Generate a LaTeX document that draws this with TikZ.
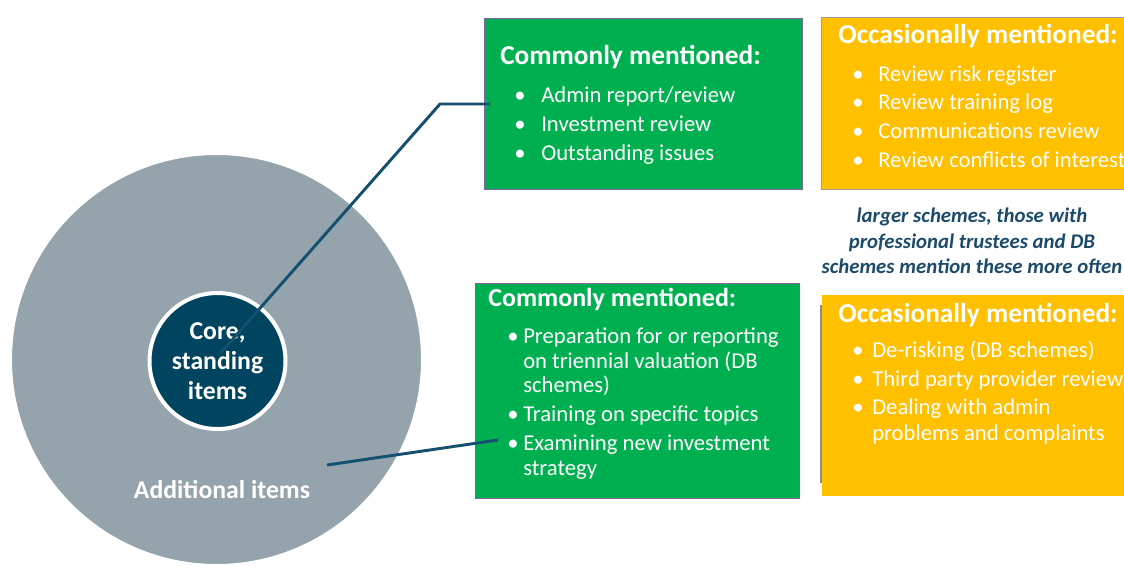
\documentclass[tikz,border=0pt]{standalone}
\usepackage{fontspec}
\setmainfont{Carlito}
\definecolor{bigc}{HTML}{95A3AD}
\definecolor{corec}{HTML}{00445F}
\definecolor{gfill}{HTML}{00B050}
\definecolor{yfill}{HTML}{FFC000}
\definecolor{linec}{HTML}{15506F}
\definecolor{notec}{HTML}{1B4A6B}
\definecolor{gborder}{HTML}{8064A2}
\definecolor{yborder}{HTML}{A09A9A}
\begin{document}
\begin{tikzpicture}[x=0.75pt,y=-0.75pt,
  gbox/.style={draw=gborder, line width=1.1pt, fill=gfill, anchor=north west, inner sep=0},
  ybox/.style={fill=yfill, anchor=north west, inner sep=0},
  title/.style={anchor=base west, text=white, inner sep=0, font=\bfseries\fontsize{20.5}{24}\selectfont},
  title2/.style={anchor=base west, text=white, inner sep=0, font=\bfseries\fontsize{19.5}{23}\selectfont},
  item/.style={anchor=base west, text=white, inner sep=0, font=\fontsize{17}{20}\selectfont},
  bul/.style={anchor=base, text=white, inner sep=0, font=\fontsize{17}{20}\selectfont},
  note/.style={anchor=base, text=notec, inner sep=0, font=\bfseries\itshape\fontsize{15.6}{19}\selectfont},
  conn/.style={draw=linec, line width=2.2pt}]
\useasboundingbox (0,0) rectangle (1124,565);
\clip (0,0) rectangle (1124,565);

% circles
\node[circle, fill=bigc, draw=white, line width=2.25pt, minimum size=309pt, inner sep=0] (big) at (216.5,359.5) {};
\node[circle, fill=corec, draw=white, line width=3pt, minimum size=102pt, inner sep=0,
      text=white, align=center, font=\bfseries\fontsize{19.3}{22.5}\selectfont] (core) at (217.5,361) {Core,\\standing\\items};
\node[anchor=base, text=white, inner sep=0, font=\bfseries\fontsize{19.3}{23}\selectfont] (add) at (222,498) {Additional items};

% boxes
\node[gbox, minimum width=238.5pt, minimum height=128.25pt] (g1) at (484,18) {};
\node[ybox, draw=yborder, line width=0.8pt, minimum width=240pt, minimum height=129pt] (y1) at (821,17) {};
\node[gbox, minimum width=243pt, minimum height=161.25pt] (g2) at (475,283) {};
\node[ybox, minimum width=232.5pt, minimum height=150.75pt] (y2) at (822,295) {};
\coordinate (ys1) at (820.5,305);
\coordinate (ys2) at (820.5,483);
\draw[draw=black!45, line width=1.5pt] (ys1) -- (ys2);

% top green
\node[title] (g1t) at (500,64) {Commonly mentioned:};
\foreach \t [count=\k] in {{Admin report/review},{Investment review},{Outstanding issues}} {
  \node[bul] (g1b\k) at (520,{102+29*(\k-1)}) {•};
  \node[item] (g1i\k) at (541,{102+29*(\k-1)}) {\t};
}

% top yellow
\node[title] (y1t) at (838,43) {Occasionally mentioned:};
\foreach \t [count=\k] in {{Review risk register},{Review training log},{Communications review},{Review conflicts of interest}} {
  \node[bul] (y1b\k) at (858,{81+28.7*(\k-1)}) {•};
  \node[item] (y1i\k) at (878,{81+28.7*(\k-1)}) {\t};
}

% note
\node[note] (n1) at (972,222) {larger schemes, those with};
\node[note] (n2) at (972,248) {professional trustees and DB};
\node[note] (n3) at (972,273) {schemes mention these more often};

% lower green
\node[title2] (g2t) at (488,306) {Commonly mentioned:};
\node[bul] (g2b1) at (513,343) {•};
\node[item] (g2i1) at (523,343) {Preparation for or reporting};
\node[item] (g2i1b) at (523,368) {on triennial valuation (DB};
\node[item] (g2i1c) at (523,392) {schemes)};
\node[bul] (g2b2) at (513,421) {•};
\node[item] (g2i2) at (523,421) {Training on specific topics};
\node[bul] (g2b3) at (513,450) {•};
\node[item] (g2i3) at (523,450) {Examining new investment};
\node[item] (g2i3b) at (523,475) {strategy};

% lower yellow
\node[title] (y2t) at (838,322) {Occasionally mentioned:};
\node[bul] (y2b1) at (858,357) {•};
\node[item] (y2i1) at (872,357) {De-risking (DB schemes)};
\node[bul] (y2b2) at (858,386) {•};
\node[item] (y2i2) at (872,386) {Third party provider review};
\node[bul] (y2b3) at (858,414) {•};
\node[item] (y2i3) at (872,414) {Dealing with admin};
\node[item] (y2i3b) at (872,440) {problems and complaints};

% connectors
\coordinate (c1) at ([shift={(3,-8)}]core.center);
\coordinate (k1) at (440,104);
\coordinate (e1) at (490,104);
\draw[conn] (c1) -- (k1) -- (e1);
\coordinate (s2) at (327,465);
\coordinate (e2) at (498,440);
\draw[conn] (s2) -- (e2);
\end{tikzpicture}
\end{document}
